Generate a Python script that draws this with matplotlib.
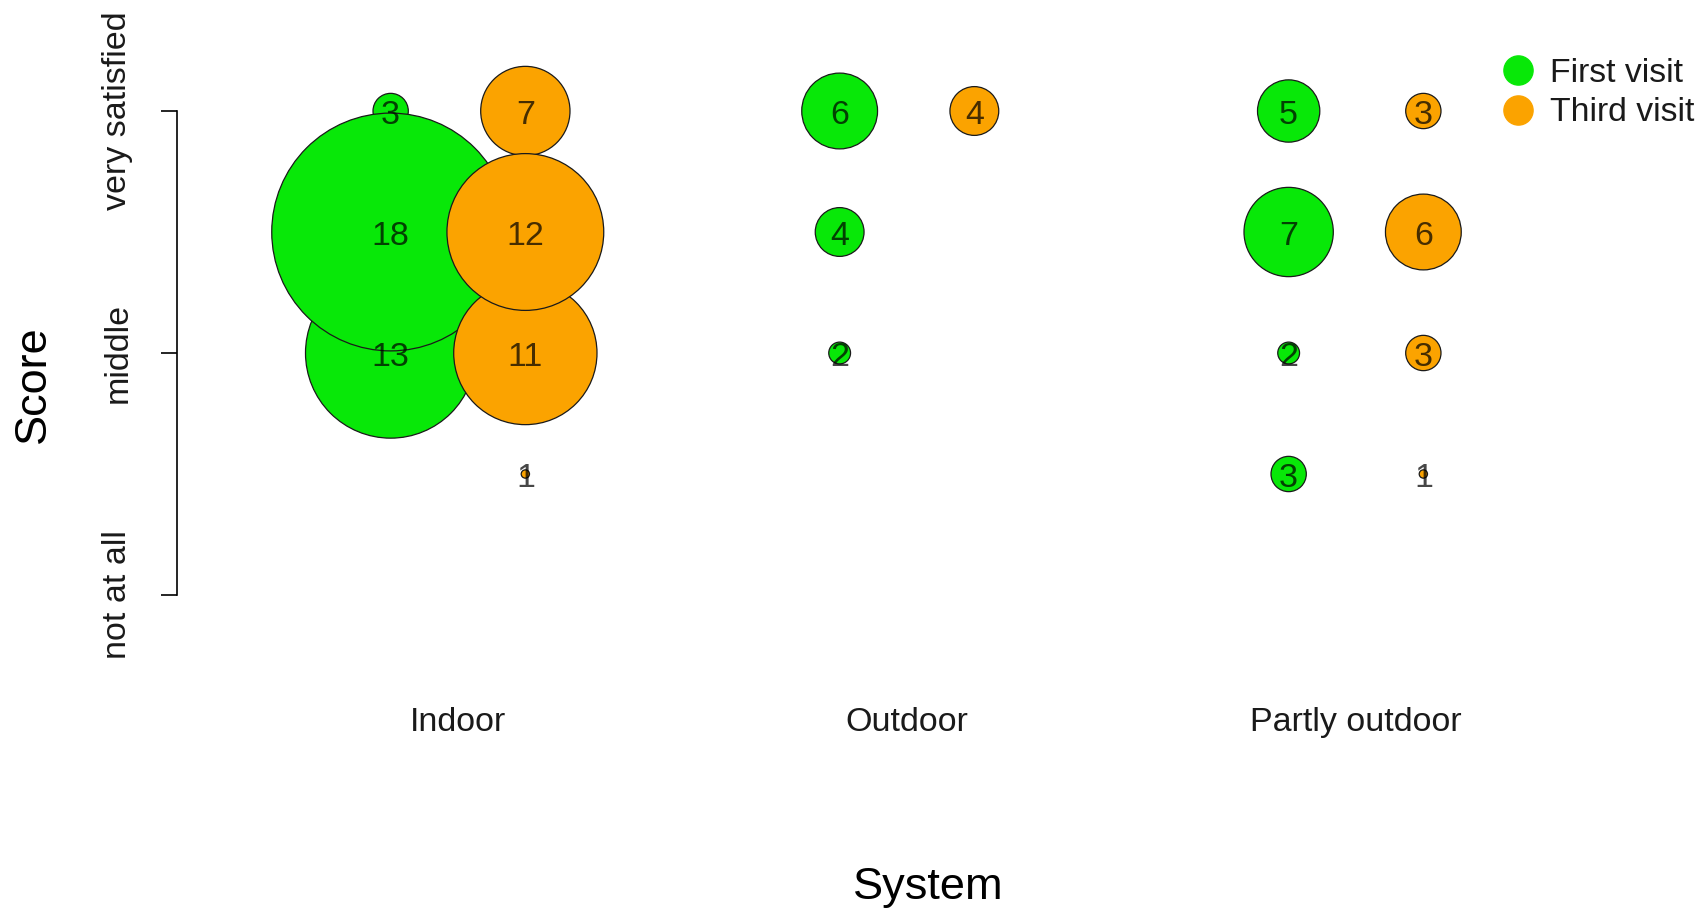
import numpy as np
import matplotlib
matplotlib.use('Agg')
import matplotlib.pyplot as plt
from matplotlib.lines import Line2D

plt.rcParams['font.family'] = ['Liberation Sans', 'DejaVu Sans']

# data
categories = ['Indoor', 'Outdoor', 'Partly outdoor']
score_ticks = [1, 3, 5]
score_labels = ['not at all', 'middle', 'very satisfied']

first_system = [1, 1, 1, 2, 2, 2, 3, 3, 3, 3]
first_score = [5, 4, 3, 5, 4, 3, 5, 4, 3, 2]
first_count = [3, 18, 13, 6, 4, 2, 5, 7, 2, 3]

third_system = [1, 1, 1, 1, 2, 3, 3, 3, 3]
third_score = [5, 4, 3, 2, 5, 5, 4, 3, 2]
third_count = [7, 12, 11, 1, 4, 3, 6, 3, 1]

green = '#08e808'
orange = '#fba300'
offset = 0.15

W, H, DPI = 1701, 911, 100
fig = plt.figure(figsize=(W / DPI, H / DPI), dpi=DPI)

# axes placed in pixels: x=1 at 458px, 449px per unit; y=1 at 595px, 121px per unit
left_px, right_px = 177, 1560
x_per_px = 1 / 449.0
xlim = (1 - (458 - left_px) * x_per_px, 3 + (right_px - 1356) * x_per_px)
top_px, bot_px = 111 - 0.5 * 121, 595 + 0.5 * 121
ax = fig.add_axes([left_px / W, 1 - bot_px / H, (right_px - left_px) / W, (bot_px - top_px) / H])
ax.set_xlim(*xlim)
ax.set_ylim(0.5, 5.5)


def sizes(counts):
    r_px = 6.75 * np.asarray(counts, float) - 2.6
    d_pt = 2 * r_px * 72.0 / DPI
    return d_pt ** 2


def draw(system, score, count, shift, color, z):
    system = np.asarray(system, float)
    score = np.asarray(score, float)
    count = np.asarray(count)
    order = np.argsort(count, kind='stable')
    ax.scatter(system[order] + shift, score[order], s=sizes(count[order]),
               c=color, edgecolors='#1a1a1a', linewidths=0.9, zorder=z)
    for xs, ys, n in zip(system, score, count):
        ax.annotate(str(n), (xs + shift, ys), xytext=(0, -3.5), textcoords='offset points',
                    ha='center', va='center', fontsize=24.5, color='black', alpha=0.72, zorder=10)


draw(first_system, first_score, first_count, -offset, green, 2)
draw(third_system, third_score, third_count, offset, orange, 3)

for s in ['top', 'right', 'bottom']:
    ax.spines[s].set_visible(False)
ax.spines['left'].set_bounds(1, 5)
ax.spines['left'].set_linewidth(1.2)

ax.set_yticks(score_ticks)
ax.set_yticklabels(score_labels, rotation=90, va='center', fontsize=24.5, color='#1a1a1a')
ax.tick_params(axis='y', length=11.5, width=1.2, pad=20)

ax.set_xticks([1, 2, 3])
ax.set_xticklabels(categories, fontsize=24.5, color='#1a1a1a')
ax.tick_params(axis='x', length=0, pad=37)

fig.text(33 / W, 1 - 384 / H, 'Score', rotation=90, ha='center', va='center', fontsize=32.5)
fig.text(928 / W, 1 - 888 / H, 'System', ha='center', va='center', fontsize=32.5)

handles = [Line2D([], [], marker='o', linestyle='none', markersize=21, color=green, label='First visit'),
           Line2D([], [], marker='o', linestyle='none', markersize=21, color=orange, label='Third visit')]
fig.legend(handles=handles, loc='upper left', bbox_to_anchor=(1503 / W, 1 - 58 / H), frameon=False,
           fontsize=24.3, handlelength=0.9, handletextpad=0.5, labelspacing=0.25, borderaxespad=0,
           borderpad=0, labelcolor='#1a1a1a')

fig.savefig('out.png', dpi=DPI)
